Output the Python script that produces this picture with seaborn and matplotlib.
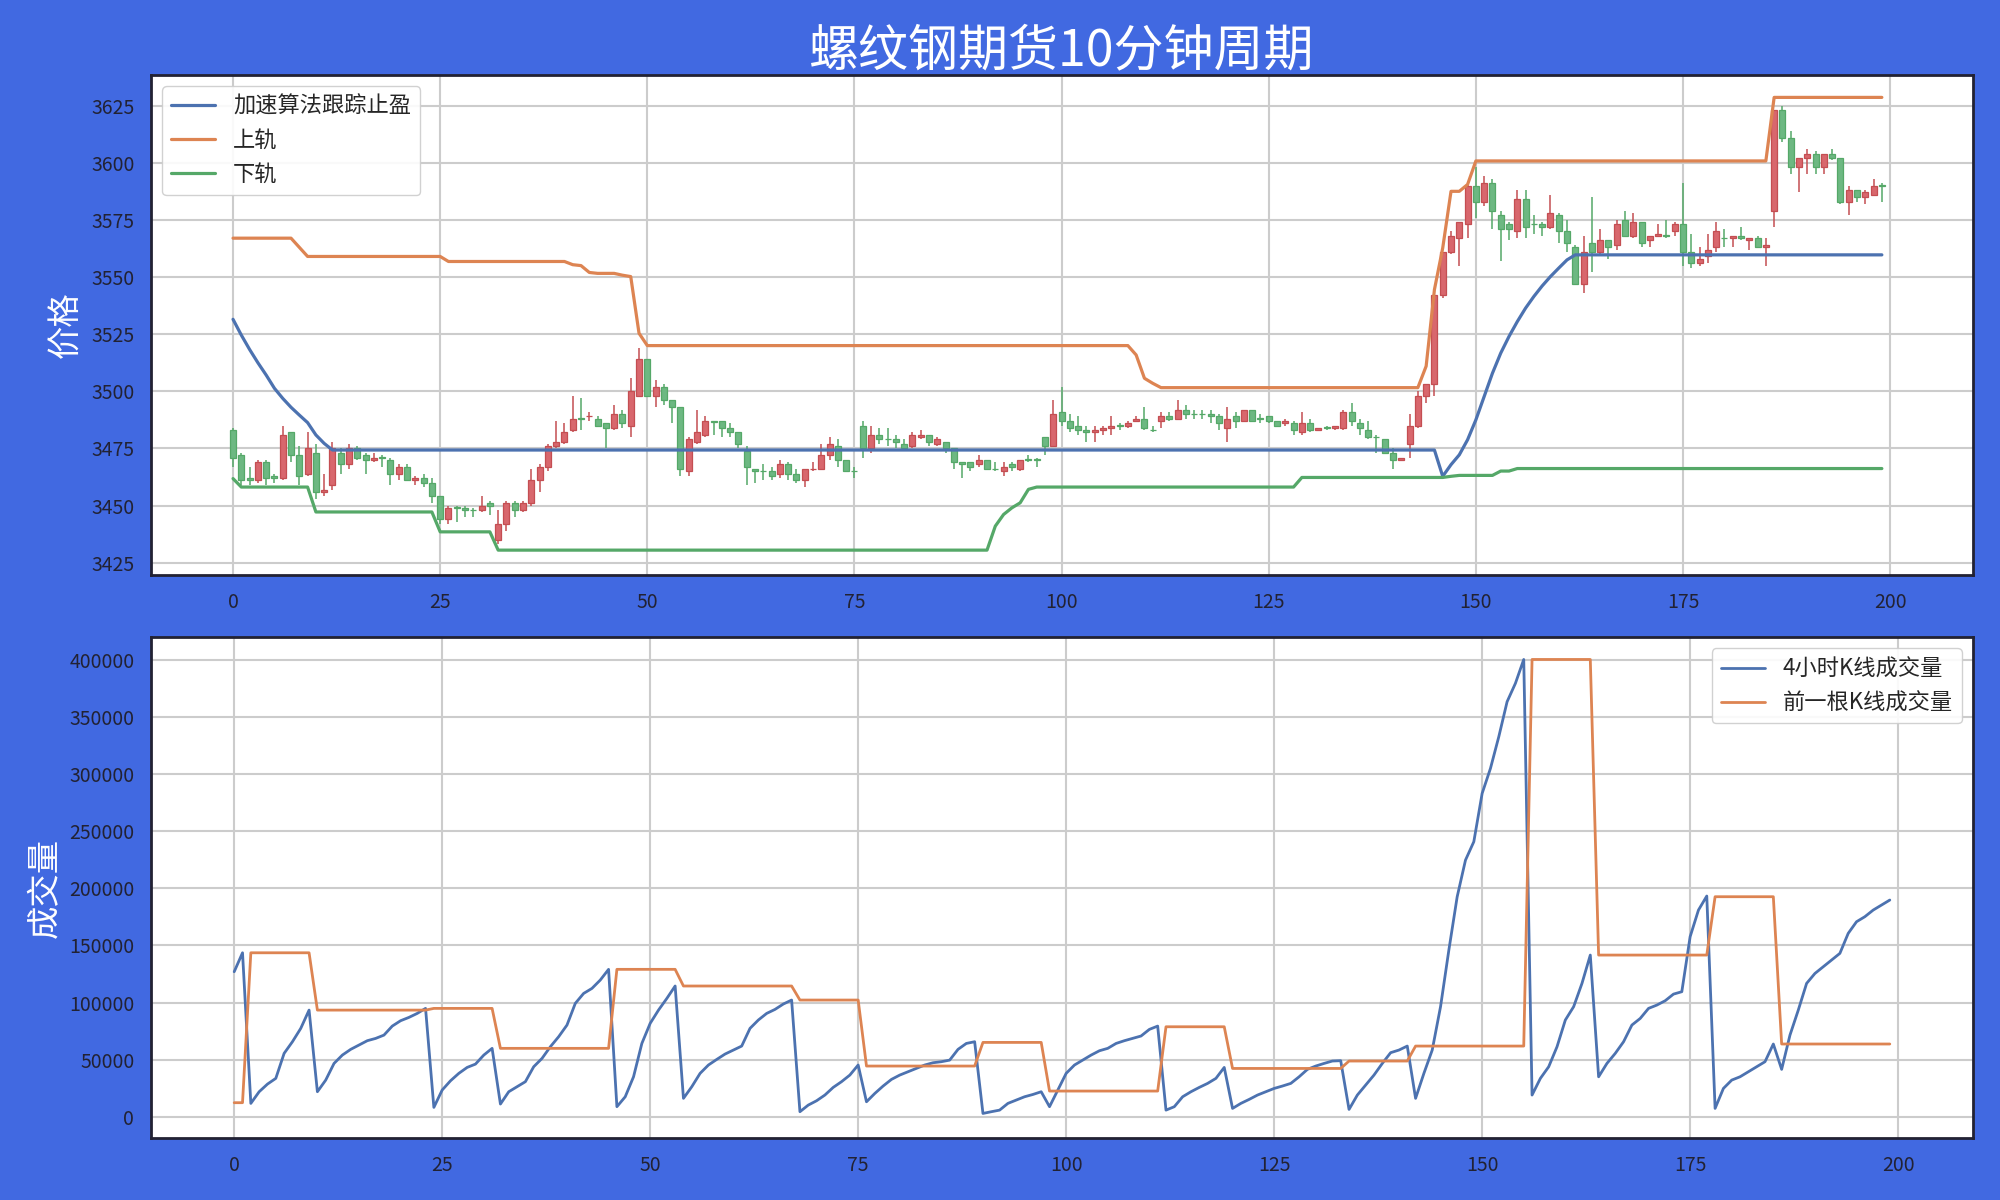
import numpy as np
import seaborn as sns
import matplotlib.pyplot as plt

# 10-minute candles (open, high, low, close)
opens = [3483, 3472, 3462, 3461, 3469, 3463, 3462, 3482, 3472, 3464,
         3473, 3456, 3459, 3473, 3468, 3475, 3472, 3470, 3471.2, 3470,
         3464, 3467, 3461, 3462, 3460, 3454, 3444, 3449.2, 3449, 3448.2,
         3448, 3451, 3435, 3442, 3451, 3448, 3451, 3461, 3467, 3476,
         3478, 3483, 3488.2, 3489, 3488, 3486, 3484, 3490, 3485, 3498,
         3514, 3498, 3502, 3496, 3493, 3465, 3478, 3481, 3487, 3487,
         3484, 3482, 3474, 3466, 3465.2, 3465, 3464, 3468, 3464, 3461,
         3466, 3466, 3472, 3476, 3470, 3465.2, 3485, 3475, 3481, 3479.2,
         3479, 3477, 3476, 3480, 3481, 3477, 3478, 3475, 3469, 3469,
         3468, 3470, 3466.2, 3465, 3468, 3466, 3470.2, 3470.2, 3480, 3476,
         3491, 3487, 3485, 3483, 3482, 3483, 3484, 3485.2, 3485, 3487,
         3488, 3483.2, 3487, 3489, 3488, 3492, 3490.2, 3490.2, 3490, 3489,
         3484, 3489, 3487, 3492, 3488.2, 3489, 3487, 3486, 3486, 3482,
         3486, 3483, 3484.2, 3484, 3484, 3491, 3486, 3483, 3480.2, 3479,
         3473, 3470, 3477, 3485, 3498, 3503, 3542, 3561, 3567, 3573,
         3590, 3583, 3591, 3577, 3573, 3570, 3584, 3573.2, 3573, 3572,
         3577, 3570, 3563, 3547, 3565, 3561, 3566, 3564, 3575, 3568,
         3574, 3566, 3568, 3568.2, 3570, 3573, 3561, 3556, 3559, 3563,
         3567.2, 3567, 3568, 3566, 3567, 3563, 3579, 3623, 3611, 3598,
         3602, 3604, 3598, 3604, 3602, 3583, 3588, 3585, 3586, 3590.2]
highs = [3484, 3473, 3467, 3470, 3470, 3464, 3485, 3482, 3476, 3482,
         3477, 3464, 3478, 3475, 3477, 3476, 3473, 3473, 3472, 3471,
         3468, 3468, 3463, 3464, 3462, 3454, 3450, 3450, 3450, 3449,
         3454, 3452, 3448, 3452, 3452, 3452, 3466, 3468, 3477, 3487,
         3486, 3498, 3497, 3491, 3489, 3486, 3494, 3492, 3506, 3519,
         3514, 3505, 3503, 3496, 3493, 3480, 3492, 3489, 3487, 3487,
         3486, 3482, 3476, 3466, 3468, 3467, 3470, 3469, 3466, 3466,
         3469, 3477, 3480, 3479, 3470, 3467, 3487, 3485, 3484, 3484,
         3481, 3479, 3482, 3483, 3481, 3480, 3478, 3475, 3469, 3469,
         3472, 3470, 3469, 3469, 3469, 3470, 3472, 3471, 3480, 3496,
         3502, 3490, 3489, 3485, 3485, 3485, 3489, 3486, 3487, 3489,
         3493, 3485, 3491, 3491, 3496, 3494, 3492, 3492, 3492, 3490,
         3493, 3491, 3492, 3492, 3490, 3489, 3487, 3488, 3487, 3491,
         3488, 3484, 3485, 3485, 3492, 3495, 3488, 3487, 3481, 3479,
         3475, 3471, 3490, 3500, 3503, 3544, 3561, 3570, 3574, 3591,
         3598, 3594, 3593, 3579, 3574, 3588, 3588, 3577, 3574, 3586,
         3578, 3575, 3564, 3568, 3585, 3571, 3566, 3575, 3579, 3578,
         3574, 3568, 3573, 3575, 3574, 3591, 3569, 3563, 3569, 3574,
         3571, 3568, 3572, 3567, 3568, 3567, 3623, 3625, 3614, 3602,
         3606, 3605, 3604, 3606, 3602, 3590, 3588, 3588, 3593, 3591]
lows = [3467, 3459, 3459, 3460, 3459, 3460, 3461, 3469, 3459, 3463,
        3453, 3454, 3457, 3464, 3466, 3470, 3464, 3469, 3467, 3459,
        3461, 3461, 3459, 3458, 3451, 3442, 3442, 3443, 3445, 3445,
        3447, 3446, 3433, 3439, 3445, 3447, 3450, 3456, 3465, 3475,
        3477, 3482, 3483, 3487, 3485, 3475, 3483, 3484, 3480, 3498,
        3498, 3493, 3494, 3486, 3463, 3463, 3477, 3480, 3481, 3480,
        3480, 3475, 3459, 3460, 3461, 3461, 3462, 3461, 3460, 3458,
        3465, 3466, 3470, 3467, 3465, 3462, 3471, 3473, 3477, 3476,
        3475, 3475, 3475, 3479, 3476, 3476, 3473, 3466, 3462, 3465,
        3467, 3466, 3465, 3463, 3465, 3465, 3469, 3467, 3472, 3476,
        3485, 3482, 3481, 3478, 3478, 3481, 3481, 3483, 3484, 3487,
        3483, 3482, 3484, 3487, 3488, 3488, 3488, 3488, 3486, 3483,
        3478, 3484, 3487, 3487, 3486, 3486, 3485, 3485, 3481, 3481,
        3482, 3483, 3483, 3483, 3483, 3485, 3481, 3479, 3473, 3473,
        3466, 3470, 3471, 3484, 3495, 3498, 3541, 3560, 3555, 3567,
        3576, 3581, 3571, 3557, 3566, 3567, 3567, 3569, 3568, 3571,
        3565, 3561, 3547, 3543, 3552, 3559, 3558, 3562, 3568, 3567,
        3563, 3563, 3568, 3567, 3568, 3555, 3554, 3555, 3556, 3561,
        3563, 3563, 3566, 3562, 3563, 3555, 3572, 3609, 3595, 3587,
        3595, 3595, 3595, 3601, 3582, 3577, 3583, 3582, 3586, 3583]
closes = [3471, 3461, 3461, 3469, 3462, 3462, 3481, 3472, 3463, 3475,
          3456, 3457, 3475, 3468, 3475, 3471, 3470, 3471, 3471, 3464,
          3467, 3461, 3462, 3460, 3454, 3444, 3449, 3449, 3448, 3448,
          3450, 3450, 3442, 3451, 3448, 3451, 3461, 3467, 3476, 3478,
          3482, 3488, 3488, 3489, 3485, 3484, 3490, 3486, 3500, 3514,
          3498, 3502, 3496, 3493, 3466, 3479, 3482, 3487, 3486.6, 3484,
          3482, 3477, 3467, 3465, 3465, 3463, 3468, 3464, 3461, 3466,
          3466, 3472, 3477, 3470, 3465, 3465, 3475, 3481, 3479, 3479,
          3478, 3475, 3481, 3481, 3478, 3479, 3475, 3469, 3468, 3467,
          3470, 3466, 3466, 3467, 3467, 3470, 3470, 3470, 3476, 3490,
          3487, 3484, 3483, 3482, 3483, 3484, 3485, 3485, 3486, 3488,
          3484, 3483, 3489, 3488, 3492, 3490, 3490, 3490, 3489, 3486,
          3488, 3487, 3492, 3487, 3488, 3487, 3485, 3487, 3483, 3486,
          3483, 3484, 3484, 3485, 3491, 3487, 3484, 3480, 3480, 3473,
          3470, 3471, 3485, 3498, 3503, 3542, 3561, 3568, 3574, 3590,
          3583, 3591, 3579, 3571, 3571, 3584, 3572, 3573, 3572, 3578,
          3570, 3565, 3547, 3561, 3561, 3566, 3563, 3573, 3568, 3574,
          3565, 3568, 3569, 3568, 3573, 3561, 3556, 3558, 3562, 3570,
          3567, 3568, 3567, 3567, 3563, 3564, 3623, 3611, 3598, 3602,
          3604, 3598, 3604, 3602, 3583, 3588, 3585, 3587, 3590, 3590]

# indicator lines on the price panel (flat stretches written as repeats)
trail_stop = ([3531.5, 3524.6, 3518.3, 3512.5, 3507.1, 3501.3, 3496.9, 3493.0,
               3489.6, 3486.3, 3480.9, 3477.2] + [3474.3] * 134 + [3462.8,
               3467.9, 3472.2, 3478.8, 3487.5, 3497.7, 3507.9, 3516.7, 3524.0,
               3530.5, 3536.4, 3541.5, 3546.1, 3550.2, 3553.9, 3557.5]
              + [3559.7] * 38)
upper_band = ([3567.0] * 8 + [3563.0] + [3559.0] * 17 + [3556.8] * 15
              + [3555.4, 3555.0, 3552.0, 3551.6, 3551.6, 3551.6, 3550.8, 3550.2, 3525.4]
              + [3520.0] * 59 + [3515.9, 3505.7, 3503.5] + [3501.6] * 32
              + [3511.0, 3544.5, 3562.7, 3587.5, 3587.5, 3590.5]
              + [3600.8] * 36 + [3628.6] * 14)
lower_band = ([3461.8] + [3458.1] * 9 + [3447.2] * 15 + [3438.5] * 7
              + [3430.5] * 60 + [3441.0, 3446.1, 3449.0, 3451.2, 3457.1]
              + [3458.1] * 32 + [3462.3] * 18 + [3462.8] + [3463.2] * 5
              + [3465.1] * 2 + [3466.2] * 45)

# volume panel
vol_4h = [127000, 143600, 11700, 21900, 28600, 33600, 55500, 65700, 77400, 93400,
          21900, 32100, 46700, 54000, 59000, 62800, 66600, 68600, 71500, 79400,
          84100, 87000, 90500, 94900, 8200, 23400, 31500, 38000, 43200, 46100,
          54000, 59900, 11100, 21900, 26300, 30700, 43800, 51100, 61300, 70100,
          80300, 99300, 108000, 112400, 119700, 129100, 8800, 17500, 35000, 64200,
          81800, 93400, 103600, 114500, 16100, 26300, 38000, 45300, 50200, 54900,
          58400, 61900, 77400, 84700, 90500, 94000, 98700, 102200, 4400, 10200,
          14000, 19000, 25700, 30700, 36500, 45300, 13100, 20400, 26900, 32700,
          36500, 39400, 42300, 45300, 47300, 48200, 49600, 59000, 64200, 65700,
          2900, 4400, 5800, 11700, 14600, 17500, 19500, 21900, 8800, 23400,
          38000, 45300, 49600, 54000, 57800, 59900, 64200, 66600, 68600, 70700,
          76500, 79400, 5800, 8800, 17500, 21900, 25700, 29200, 33600, 43200,
          7300, 11700, 15200, 19000, 21900, 24800, 26900, 29200, 35000, 41500,
          44400, 46700, 48800, 49100, 6400, 19000, 27700, 36500, 46700, 56100,
          58400, 61900, 16100, 38000, 58400, 96400, 146000, 192700, 224800, 240900,
          283200, 305100, 332800, 363500, 379600, 400500, 19000, 33600, 43800, 61300,
          84700, 96400, 116800, 141600, 35000, 46700, 55500, 65700, 80300, 86100,
          94900, 97800, 101600, 107400, 109500, 157700, 181000, 193300, 7300, 24800,
          32100, 35000, 39400, 43800, 48200, 63700, 41500, 71500, 93400, 116800,
          125500, 131400, 137200, 143100, 160600, 170800, 175200, 181000, 185400, 189800]
vol_prev = ([12300] * 2 + [143600] * 8 + [93400] * 14 + [94900] * 8 + [59900] * 14
            + [129100] * 8 + [114500] * 14 + [102200] * 8 + [44400] * 14
            + [65100] * 8 + [22500] * 14 + [78800] * 8 + [42300] * 14
            + [48800] * 8 + [61900] * 14 + [400500] * 8 + [141600] * 14
            + [192700] * 8 + [63700] * 14)

price_ticks = [3425, 3450, 3475, 3500, 3525, 3550, 3575, 3600, 3625]
vol_ticks = [0, 50000, 100000, 150000, 200000, 250000, 300000, 350000, 400000]
x_ticks = [0, 25, 50, 75, 100, 125, 150, 175, 200]

sns.set_theme(style="whitegrid", palette="deep")
plt.rcParams['font.family'] = ['Noto Sans CJK SC', 'DejaVu Sans']
plt.rcParams['axes.unicode_minus'] = False

pal = sns.color_palette("deep")
bg = '#4169E1'
ink = '#222233'

fig = plt.figure(figsize=(20, 12), dpi=100, facecolor=bg)
ax1 = fig.add_axes([0.0755, 0.5208, 0.911, 0.4167])
ax2 = fig.add_axes([0.0755, 0.0514, 0.911, 0.4175])

x = np.arange(len(opens))
o = np.array(opens)
c = np.array(closes)
up = c >= o
face = np.where(up, '#d8676d', '#6db882')
edge = np.where(up, '#c44e52', '#55a868')

# candlesticks: wicks then bodies
ax1.vlines(x, lows, highs, colors=edge, linewidth=1.1, zorder=2)
ax1.bar(x, np.abs(c - o), bottom=np.minimum(o, c), width=0.72,
        color=face, edgecolor=edge, linewidth=0.9, zorder=3)

sns.lineplot(x=x, y=trail_stop, ax=ax1, color=pal[0], linewidth=2.3, label='加速算法跟踪止盈', zorder=4)
sns.lineplot(x=x, y=upper_band, ax=ax1, color=pal[1], linewidth=2.3, label='上轨', zorder=4)
sns.lineplot(x=x, y=lower_band, ax=ax1, color=pal[2], linewidth=2.3, label='下轨', zorder=4)

sns.lineplot(x=x, y=vol_4h, ax=ax2, color=pal[0], linewidth=2, label='4小时K线成交量')
sns.lineplot(x=x, y=vol_prev, ax=ax2, color=pal[1], linewidth=2, label='前一根K线成交量')

ax1.set_xlim(-9.9, 210)
ax1.set_ylim(3419.6, 3638.4)
ax2.set_xlim(-10.0, 209.0)
ax2.set_ylim(-18900, 419900)
ax1.set_yticks(price_ticks)
ax2.set_yticks(vol_ticks)
ax2.set_yticklabels([str(v) for v in vol_ticks])
for ax in (ax1, ax2):
    ax.set_xticks(x_ticks)
    ax.set_facecolor('white')
    ax.grid(True, color='#cccccc', linewidth=1.5)
    ax.tick_params(axis='both', labelsize=14, labelcolor=ink, length=0, pad=12)
    for s in ax.spines.values():
        s.set_color(ink)
        s.set_linewidth(2)
    ax.set_xlabel('')

ax1.set_ylabel('价格', fontsize=24, color='white')
ax1.yaxis.set_label_coords(-0.037, 0.5)
ax2.set_ylabel('成交量', fontsize=24, color='white')
ax2.yaxis.set_label_coords(-0.048, 0.5)

ax1.legend(loc='upper left', fontsize=16, frameon=True, facecolor='white',
           edgecolor='#cccccc', framealpha=0.9)
ax2.legend(loc='upper right', fontsize=16, frameon=True, facecolor='white',
           edgecolor='#cccccc', framealpha=0.9)

fig.text(0.531, 0.9575, '螺纹钢期货10分钟周期', fontsize=36, color='white',
         ha='center', va='center')

fig.savefig('out.png', dpi=100, facecolor=bg)
